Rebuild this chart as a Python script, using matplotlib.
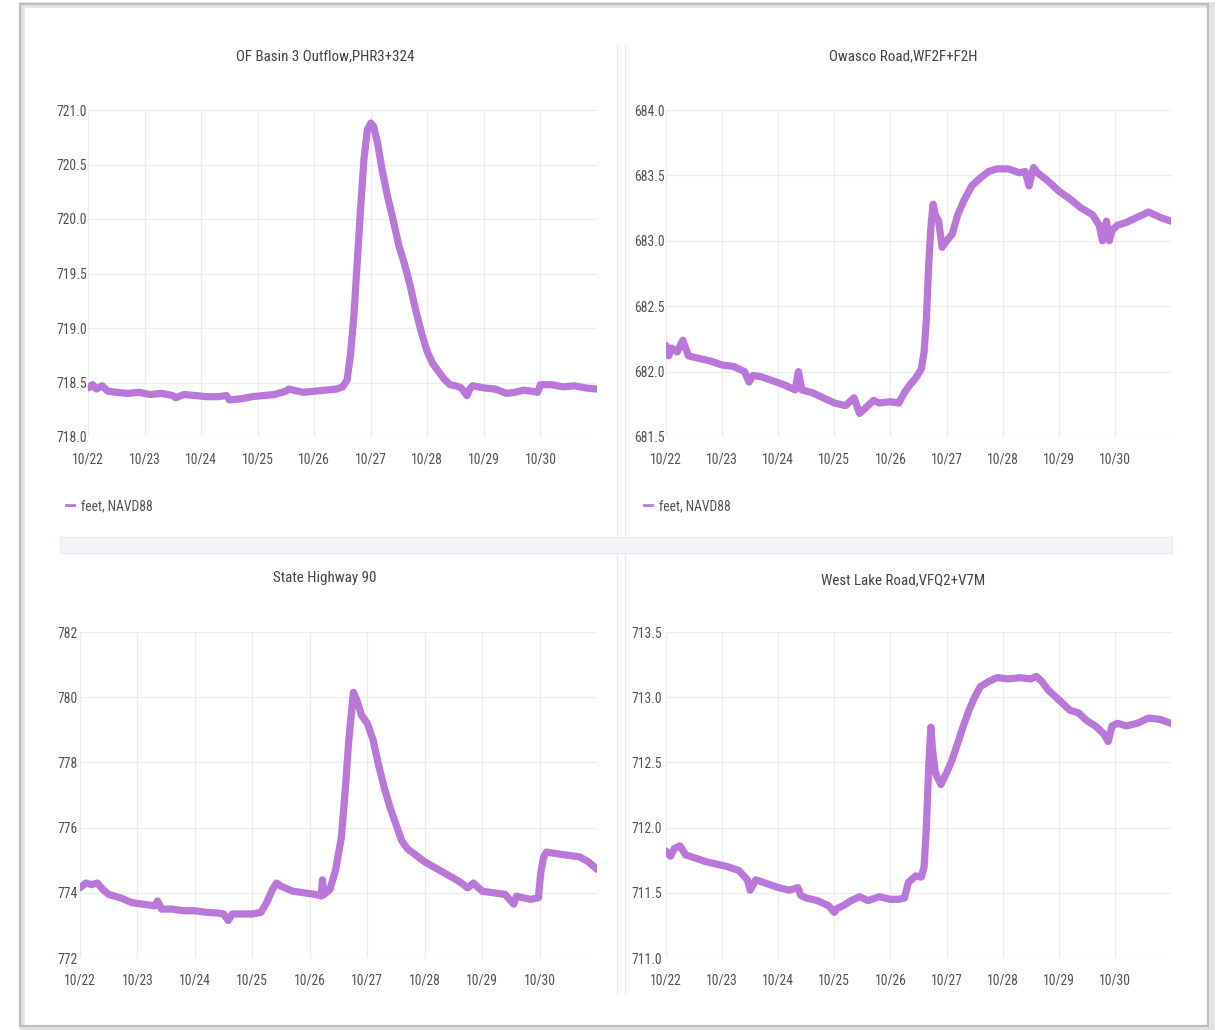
import matplotlib
matplotlib.use('Agg')
import matplotlib.pyplot as plt
import matplotlib.dates as mdates
from matplotlib import font_manager
from matplotlib.patches import Rectangle
from matplotlib.lines import Line2D
import pandas as pd

# narrow font like the grafana screenshot, if one is around
names = set(f.name for f in font_manager.fontManager.ttflist)
fam = 'Roboto'
for cand in ['Liberation Sans Narrow', 'Roboto Condensed', 'Open Sans Condensed', 'Noto Sans Condensed']:
  if cand in names:
    fam = cand
    break
else:
  if any(f.name == 'DejaVu Sans' and f.stretch == 'condensed' for f in font_manager.fontManager.ttflist):
    fam = 'DejaVu Sans'
    plt.rcParams['font.stretch'] = 'condensed'
plt.rcParams['font.family'] = [fam, 'DejaVu Sans']

# ---- data (days after 10/22 00:00, water level in feet NAVD88) ----
p1_title = 'OF Basin 3 Outflow,PHR3+324'
p1_days = [0.0, 0.08, 0.15, 0.25, 0.35, 0.5, 0.7, 0.9, 1.1, 1.3, 1.5, 1.55, 1.7, 1.9, 2.1, 2.3, 2.45, 2.5,
           2.7, 2.9, 3.1, 3.3, 3.5, 3.55, 3.8, 4.0, 4.2, 4.4, 4.5, 4.58, 4.64, 4.7, 4.76, 4.82, 4.88, 4.94,
           5.0, 5.05, 5.12, 5.2, 5.3, 5.4, 5.5, 5.6, 5.7, 5.8, 5.9, 6.0, 6.1, 6.2, 6.3, 6.4, 6.5, 6.6, 6.7,
           6.75, 6.8, 6.9, 7.0, 7.2, 7.4, 7.55, 7.7, 7.85, 7.95, 8.0, 8.2, 8.4, 8.6, 8.8, 9.0]
p1_vals = [718.45, 718.48, 718.44, 718.47, 718.42, 718.41, 718.40, 718.41, 718.39, 718.40, 718.38, 718.36,
           718.39, 718.38, 718.37, 718.37, 718.38, 718.34, 718.35, 718.37, 718.38, 718.39, 718.42, 718.44,
           718.41, 718.42, 718.43, 718.44, 718.46, 718.52, 718.75, 719.1, 719.6, 720.1, 720.55, 720.82,
           720.88, 720.85, 720.7, 720.45, 720.2, 719.98, 719.75, 719.58, 719.38, 719.15, 718.95, 718.78,
           718.67, 718.6, 718.53, 718.48, 718.47, 718.45, 718.38, 718.44, 718.47, 718.46, 718.45, 718.44,
           718.40, 718.41, 718.43, 718.42, 718.41, 718.48, 718.48, 718.46, 718.47, 718.45, 718.44]
p1_yticks = [718.0, 718.5, 719.0, 719.5, 720.0, 720.5, 721.0]

p2_title = 'Owasco Road,WF2F+F2H'
p2_days = [0.0, 0.05, 0.1, 0.2, 0.3, 0.4, 0.6, 0.8, 1.0, 1.2, 1.4, 1.48, 1.55, 1.7, 1.9, 2.1, 2.3, 2.36,
           2.42, 2.6, 2.8, 3.0, 3.2, 3.35, 3.45, 3.55, 3.7, 3.8, 4.0, 4.15, 4.25, 4.35, 4.45, 4.55, 4.6,
           4.64, 4.68, 4.72, 4.76, 4.8, 4.86, 4.92, 5.0, 5.1, 5.2, 5.3, 5.45, 5.6, 5.75, 5.9, 6.1, 6.3,
           6.4, 6.47, 6.55, 6.62, 6.8, 7.0, 7.2, 7.4, 7.6, 7.72, 7.78, 7.85, 7.9, 7.95, 8.05, 8.2, 8.4,
           8.6, 8.8, 9.0]
p2_vals = [682.20, 682.12, 682.18, 682.15, 682.24, 682.12, 682.10, 682.08, 682.05, 682.04, 682.0, 681.92,
           681.97, 681.96, 681.93, 681.90, 681.86, 682.0, 681.86, 681.84, 681.80, 681.76, 681.74, 681.80,
           681.68, 681.72, 681.78, 681.76, 681.77, 681.76, 681.84, 681.90, 681.95, 682.02, 682.15, 682.4,
           682.8, 683.1, 683.28, 683.2, 683.15, 682.95, 683.0, 683.05, 683.2, 683.3, 683.42, 683.48,
           683.53, 683.55, 683.55, 683.52, 683.53, 683.42, 683.56, 683.52, 683.46, 683.38, 683.32, 683.25,
           683.2, 683.12, 683.0, 683.15, 683.0, 683.08, 683.12, 683.14, 683.18, 683.22, 683.18, 683.15]
p2_yticks = [681.5, 682.0, 682.5, 683.0, 683.5, 684.0]

p3_title = 'State Highway 90'
p3_days = [0.0, 0.1, 0.2, 0.3, 0.4, 0.5, 0.7, 0.9, 1.1, 1.3, 1.35, 1.42, 1.6, 1.8, 2.0, 2.2, 2.4, 2.5,
           2.58, 2.65, 2.8, 3.0, 3.15, 3.25, 3.35, 3.42, 3.5, 3.7, 3.9, 4.1, 4.2, 4.22, 4.25, 4.35, 4.45,
           4.55, 4.62, 4.68, 4.76, 4.82, 4.9, 5.0, 5.1, 5.2, 5.3, 5.4, 5.5, 5.6, 5.7, 5.85, 6.0, 6.2, 6.4,
           6.6, 6.75, 6.85, 7.0, 7.2, 7.4, 7.55, 7.6, 7.7, 7.85, 7.98, 8.02, 8.07, 8.12, 8.3, 8.5, 8.7,
           8.85, 9.0]
p3_vals = [774.15, 774.3, 774.25, 774.3, 774.1, 773.95, 773.85, 773.7, 773.65, 773.6, 773.75, 773.5,
           773.5, 773.45, 773.45, 773.4, 773.38, 773.35, 773.15, 773.35, 773.35, 773.35, 773.4, 773.7,
           774.1, 774.3, 774.2, 774.05, 774.0, 773.95, 773.9, 774.4, 773.95, 774.1, 774.7, 775.7, 777.2,
           778.7, 780.15, 779.9, 779.45, 779.2, 778.7, 777.9, 777.2, 776.6, 776.1, 775.6, 775.35, 775.15,
           774.95, 774.75, 774.55, 774.35, 774.15, 774.3, 774.05, 774.0, 773.95, 773.65, 773.9, 773.85,
           773.8, 773.85, 774.6, 775.1, 775.25, 775.2, 775.15, 775.1, 774.95, 774.72]
p3_yticks = [772, 774, 776, 778, 780, 782]

p4_title = 'West Lake Road,VFQ2+V7M'
p4_days = [0.0, 0.08, 0.15, 0.25, 0.35, 0.5, 0.7, 0.9, 1.1, 1.3, 1.45, 1.5, 1.6, 1.8, 2.0, 2.2, 2.35,
           2.4, 2.5, 2.7, 2.9, 3.0, 3.05, 3.15, 3.3, 3.45, 3.6, 3.8, 4.0, 4.15, 4.25, 4.32, 4.45, 4.55,
           4.6, 4.64, 4.68, 4.72, 4.75, 4.8, 4.9, 5.0, 5.1, 5.2, 5.3, 5.4, 5.5, 5.6, 5.75, 5.9, 6.1, 6.3,
           6.5, 6.6, 6.7, 6.8, 7.0, 7.2, 7.35, 7.5, 7.65, 7.8, 7.88, 7.95, 8.05, 8.2, 8.4, 8.6, 8.8, 9.0]
p4_vals = [711.82, 711.78, 711.84, 711.86, 711.79, 711.77, 711.74, 711.72, 711.70, 711.67, 711.60, 711.52,
           711.60, 711.57, 711.54, 711.52, 711.54, 711.48, 711.46, 711.44, 711.40, 711.35, 711.38, 711.40,
           711.44, 711.47, 711.44, 711.47, 711.45, 711.45, 711.46, 711.58, 711.63, 711.62, 711.7, 712.0,
           712.45, 712.77, 712.6, 712.42, 712.33, 712.42, 712.52, 712.65, 712.78, 712.9, 713.0, 713.08,
           713.12, 713.15, 713.14, 713.15, 713.14, 713.16, 713.12, 713.06, 712.98, 712.9, 712.88, 712.82,
           712.78, 712.72, 712.66, 712.78, 712.8, 712.78, 712.8, 712.84, 712.83, 712.80]
p4_yticks = [711.0, 711.5, 712.0, 712.5, 713.0, 713.5]

legend_label = 'feet, NAVD88'
start = pd.Timestamp('2023-10-22')
end = pd.Timestamp('2023-10-31')
xticks = pd.date_range('2023-10-22', '2023-10-30', freq='D')

LINE = '#b877d9'
GRID = '#ececec'
TXT = '#4f5258'

W, H = 1218, 1030
fig = plt.figure(figsize=(W / 100, H / 100), dpi=100)
fig.patch.set_facecolor('white')

def px(x, y):
  return x / W, 1 - y / H

# outer frame with soft shadow (behind the axes)
fig.patches.append(Rectangle(px(22, 1029), 1190 / W, 1024 / H, transform=fig.transFigure,
                             facecolor='none', edgecolor='#e2e2e2', lw=4, zorder=-3))
fig.patches.append(Rectangle(px(20, 1026), 1188 / W, 1022 / H, transform=fig.transFigure,
                             facecolor='none', edgecolor='#bdbdbd', lw=1.6, zorder=-2))
# gap between panel rows / columns
fig.patches.append(Rectangle(px(60, 553), 1112 / W, 16 / H, transform=fig.transFigure,
                             facecolor='#f3f4f7', edgecolor='#e9eaee', lw=0.8, zorder=-2))
for xx in (617, 625):
  fig.add_artist(Line2D([xx / W, xx / W], [1 - 45 / H, 1 - 537 / H], color='#e8e9ec', lw=0.9, zorder=-2))
  fig.add_artist(Line2D([xx / W, xx / W], [1 - 553 / H, 1 - 993 / H], color='#e8e9ec', lw=0.9, zorder=-2))

panels = [
  (p1_title, p1_days, p1_vals, p1_yticks, [88, 110, 597, 437], 325, 56, 22.5, True),
  (p2_title, p2_days, p2_vals, p2_yticks, [666, 110, 1171, 437], 903, 56, 23.0, True),
  (p3_title, p3_days, p3_vals, p3_yticks, [80, 632, 597, 958], 325, 578, 16.5, False),
  (p4_title, p4_days, p4_vals, p4_yticks, [666, 632, 1171, 958], 903, 580, 25.0, False),
]

for title, days, vals, yticks, box, tx, ty, ypad, show_leg in panels:
  x0, y0, x1, y1 = box
  ax = fig.add_axes([x0 / W, 1 - y1 / H, (x1 - x0) / W, (y1 - y0) / H])
  t = start + pd.to_timedelta(days, unit='D')
  ax.plot(t, vals, color=LINE, lw=5.2, solid_capstyle='round', solid_joinstyle='round', zorder=3)
  ax.set_xlim(start, end)
  ax.set_ylim(yticks[0], yticks[-1])
  ax.set_xticks(xticks)
  ax.xaxis.set_major_formatter(mdates.DateFormatter('%m/%d'))
  ax.set_yticks(yticks)
  if isinstance(yticks[0], float):
    ax.set_yticklabels(['%.1f' % v for v in yticks])
  else:
    ax.set_yticklabels([str(v) for v in yticks])
  for lab in ax.get_yticklabels():
    lab.set_horizontalalignment('left')
  ax.tick_params(axis='y', length=0, pad=ypad, labelsize=9.8, labelcolor=TXT)
  ax.tick_params(axis='x', length=0, pad=11, labelsize=9.8, labelcolor=TXT)
  ax.grid(True, color=GRID, lw=0.9)
  for s in ax.spines.values():
    s.set_visible(False)
  ax.set_facecolor('none')
  fig.text(tx / W, 1 - ty / H, title, ha='center', va='center', fontsize=10.8, color='#404349')
  if show_leg:
    h = Line2D([], [], color=LINE, lw=2)
    ax.legend([h], [legend_label], loc='center left', bbox_to_anchor=((x0 - 22) / W, 1 - 506 / H),
              bbox_transform=fig.transFigure, frameon=False, handlelength=0.6, handletextpad=0.5,
              fontsize=9.8, labelcolor=TXT, borderaxespad=0, borderpad=0)

fig.savefig('out.png', dpi=100)
